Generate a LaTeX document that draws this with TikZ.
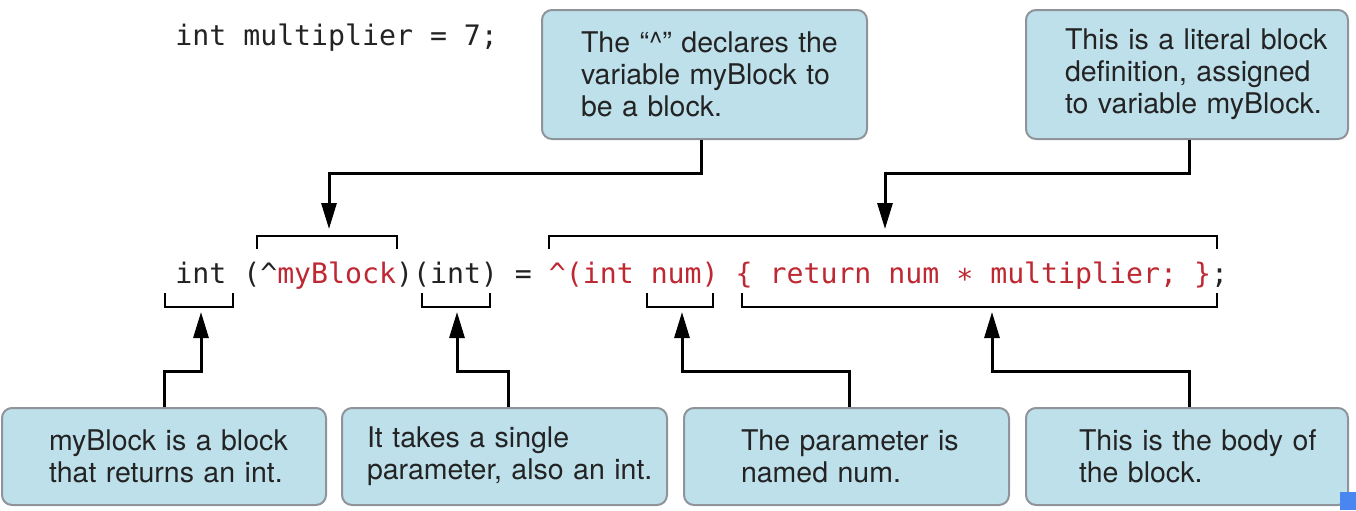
\documentclass[tikz,border=0pt]{standalone}
\usepackage{fontspec}
\setmonofont{DejaVu Sans Mono}
\newfontfamily\helv{TeX Gyre Heros}
\usetikzlibrary{arrows.meta}
\definecolor{boxfill}{RGB}{189,224,235}
\definecolor{boxline}{RGB}{142,148,153}
\definecolor{codered}{RGB}{190,40,50}
\definecolor{textc}{RGB}{35,35,35}
\definecolor{cornerblue}{RGB}{74,134,240}
\newcommand{\rd}[1]{\textcolor{codered}{#1}}
\newcommand{\ml}[1]{\mbox{#1}}
\hbadness=10000 \hfuzz=200pt
\tikzset{
  note/.style={draw=boxline, fill=boxfill, line width=1pt, rounded corners=5pt,
    anchor=north west, align=left, text=textc, inner ysep=0pt,
    font=\helv\fontsize{14.25}{16}\selectfont},
  code/.style={anchor=base west, inner sep=0pt, text=textc,
    font=\ttfamily\fontsize{14.1}{17}\selectfont},
  conn/.style={line width=1.5pt, -{Triangle[length=13pt,width=7.5pt]}},
  brk/.style={line width=1.4pt}
}
\begin{document}
\begin{tikzpicture}[x=0.5pt,y=-0.5pt]
\useasboundingbox (0,0) rectangle (1356,510);
% code
\node[code] (mult) at (175,45) {int multiplier = 7;};
\node[code] (line) at (175,283) {int (\textasciicircum\rd{myBlock})(int) = \rd{\textasciicircum(int num) \{ return num ∗ multiplier; \}};};
% top notes
\node[note, minimum width=162.5pt, minimum height=64.5pt, text width=123.5pt, inner xsep=19.5pt] (t1) at (541,9)
  {\ml{The “\textasciicircum” declares the}\\\ml{variable myBlock to}\\\ml{be a block.}};
\node[note, minimum width=161pt, minimum height=64.5pt, text width=122pt, inner xsep=19.5pt] (t2) at (1025,9)
  {\ml{This is a literal block}\\\ml{definition, assigned}\\\ml{to variable myBlock.}};
% bottom notes
\node[note, minimum width=162pt, minimum height=48.5pt, text width=115pt, inner xsep=23.5pt] (b1) at (1,407)
  {\ml{myBlock is a block}\\\ml{that returns an int.}};
\node[note, minimum width=162.5pt, minimum height=48.5pt, text width=137.5pt, inner xsep=12.5pt] (b2) at (341,407)
  {\ml{It takes a single}\\\ml{parameter, also an int.}};
\node[note, minimum width=162.5pt, minimum height=48.5pt, text width=105.5pt, inner xsep=28.5pt] (b3) at (683,407)
  {\ml{The parameter is}\\\ml{named num.}};
\node[note, minimum width=161pt, minimum height=48.5pt, text width=108pt, inner xsep=26.5pt] (b4) at (1025,407)
  {\ml{This is the body of}\\\ml{the block.}};
% brackets
\draw[brk] (257,249) -- (257,236) -- (397,236) -- (397,249);
\draw[brk] (549,249) -- (549,236) -- (1217,236) -- (1217,249);
\draw[brk] (165,293) -- (165,307) -- (233,307) -- (233,293);
\draw[brk] (422,293) -- (422,307) -- (490,307) -- (490,293);
\draw[brk] (647,293) -- (647,307) -- (713,307) -- (713,293);
\draw[brk] (742,293) -- (742,307) -- (1217,307) -- (1217,293);
% arrow targets
\coordinate (tA) at (329,229);
\coordinate (tB) at (885,229);
\coordinate (bA) at (201,312);
\coordinate (bB) at (457,312);
\coordinate (bC) at (682,312);
\coordinate (bD) at (992,312);
% connectors
\draw[conn] ([xshift=-1.5pt]t1.south) -- ++(0,33) -| (tA);
\draw[conn] ([xshift=1pt]t2.south) -- ++(0,33) -| (tB);
\draw[conn] (b1.north) -- ++(0,-36) -| (bA);
\draw[conn] ([xshift=2pt]b2.north) -- ++(0,-36) -| (bB);
\draw[conn] ([xshift=1.5pt]b3.north) -- ++(0,-36) -| (bC);
\draw[conn] ([xshift=1pt]b4.north) -- ++(0,-36) -| (bD);
% corner mark
\fill[cornerblue] (1340,492) rectangle (1356,510);
\end{tikzpicture}
\end{document}
